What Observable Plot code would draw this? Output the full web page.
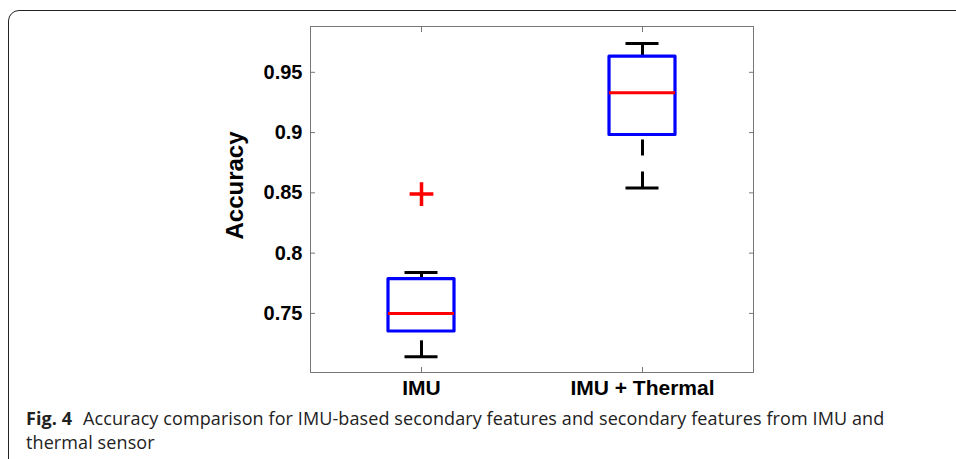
<!DOCTYPE html>
<html>
<head>
<meta charset="utf-8">
<script src="https://cdn.jsdelivr.net/npm/d3@7"></script>
<script src="https://cdn.jsdelivr.net/npm/@observablehq/plot@0.6"></script>
<style>
  html, body { margin: 0; padding: 0; background: #fff; width: 956px; height: 459px; overflow: hidden; }
  #chart { position: absolute; left: 0; top: 0; }
  #card { position: absolute; left: 8px; top: 10px; width: 1000px; height: 520px; border: 1px solid #222; border-radius: 11px; box-sizing: border-box; pointer-events: none; }
  #caption { position: absolute; left: 26px; top: 406px; font-family: "Open Sans", sans-serif; font-size: 18px; letter-spacing: 0.1px; line-height: 24px; color: #222; white-space: nowrap; }
  #caption b { font-weight: 700; margin-right: 6px; }
</style>
</head>
<body>
<div id="chart"></div>
<div id="card"></div>
<div id="caption"><b>Fig. 4</b> Accuracy comparison for IMU-based secondary features and secondary features from IMU and<br>thermal sensor</div>
<script>
// ---- data ----
const categories = ["IMU", "IMU + Thermal"];
const lowerWhisker = [0.714, 0.854];
const q1 = [0.735, 0.898];
const median = [0.750, 0.933];
const q3 = [0.7785, 0.963];
const upperWhisker = [0.784, 0.974];
const outlierCategory = ["IMU"];
const outlierValue = [0.849];
const yTicks = [0.75, 0.8, 0.85, 0.9, 0.95];
const yTickLabels = ["0.75", "0.8", "0.85", "0.9", "0.95"];
const yLabel = ["Accuracy"];

const boxes = categories.map((c, i) => ({
  category: c, lo: lowerWhisker[i], q1: q1[i], med: median[i], q3: q3[i], hi: upperWhisker[i]
}));
const outliers = outlierCategory.map((c, i) => ({ category: c, value: outlierValue[i] }));

const frameColor = "#777";

const chart = Plot.plot({
  width: 956,
  height: 400,
  marginLeft: 310,
  marginRight: 203,
  marginTop: 26,
  marginBottom: 28,
  style: { fontFamily: "'Liberation Sans', Arial, sans-serif", fontSize: "20px", fontWeight: "bold", color: "black", background: "transparent" },
  x: { type: "band", domain: categories, paddingInner: 0.702, paddingOuter: 0.351, axis: null, label: null },
  y: { domain: [0.701, 0.988], axis: null, label: null },
  marks: [
    Plot.frame({ stroke: frameColor }),
    // inner ticks
    Plot.axisY(yTicks, { anchor: "left", tickSize: -5, tickFormat: () => "", stroke: frameColor, label: null }),
    Plot.axisY(yTicks, { anchor: "right", tickSize: -5, tickFormat: () => "", stroke: frameColor, label: null }),
    Plot.axisX(categories, { anchor: "bottom", tickSize: -5, tickFormat: () => "", stroke: frameColor, label: null }),
    Plot.axisX(categories, { anchor: "top", tickSize: -5, tickFormat: () => "", stroke: frameColor, label: null }),
    // labels
    Plot.axisY(yTicks, { anchor: "left", tickSize: 0, tickPadding: 8, tickFormat: (d, i) => yTickLabels[i], fill: "black", label: null }),
    Plot.axisX(categories, { anchor: "bottom", tickSize: 0, tickPadding: 8, fontSize: 21, fill: "black", label: null }),
    Plot.text(yLabel, { text: d => d, frameAnchor: "left", textAnchor: "middle", rotate: -90, dx: -75, dy: -14, fontSize: 24, fontWeight: "bold", lineAnchor: "middle", fill: "black" }),
    // whiskers (dashed)
    Plot.ruleX(boxes, { x: "category", y1: "lo", y2: "q1", stroke: "black", strokeWidth: 3, strokeDasharray: "16,16" }),
    Plot.ruleX(boxes, { x: "category", y1: "hi", y2: "q3", stroke: "black", strokeWidth: 3, strokeDasharray: "16,16" }),
    // caps
    Plot.tickY(boxes, { x: "category", y: "lo", stroke: "black", strokeWidth: 3, inset: 16.5 }),
    Plot.tickY(boxes, { x: "category", y: "hi", stroke: "black", strokeWidth: 3, inset: 16.5 }),
    // boxes
    Plot.barY(boxes, { x: "category", y1: "q1", y2: "q3", fill: "none", stroke: "#0000ff", strokeWidth: 3.2, strokeLinejoin: "round" }),
    // medians
    Plot.tickY(boxes, { x: "category", y: "med", stroke: "#ff0000", strokeWidth: 3 }),
    // outliers
    Plot.dot(outliers, { x: "category", y: "value", symbol: "plus", r: 7.7, stroke: "#ff0000", strokeWidth: 3.5 })
  ]
});
document.getElementById("chart").appendChild(chart);
</script>
</body>
</html>
